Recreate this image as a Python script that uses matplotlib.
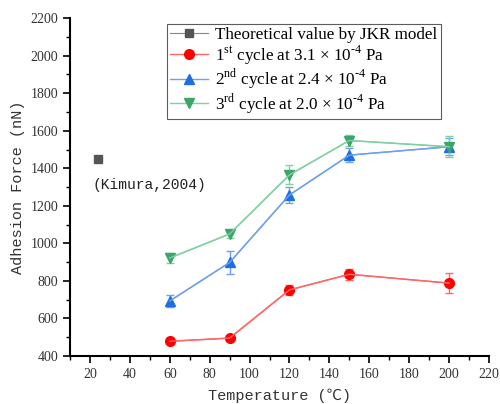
import matplotlib
matplotlib.use('Agg')
import matplotlib.pyplot as plt
from matplotlib.ticker import MultipleLocator

plt.rcParams['mathtext.fontset'] = 'custom'
plt.rcParams['mathtext.rm'] = 'Liberation Serif'

#--------------------------------DATA--------------------
temps = [60, 90, 120, 150, 200]
jkr_x = [24]
jkr_y = [1450]
cycle1 = [478, 495, 752, 835, 788]
cycle1_err = [10, 12, 25, 28, 55]
cycle2 = [693, 898, 1258, 1470, 1515]
cycle2_err = [30, 60, 42, 38, 45]
cycle3 = [922, 1050, 1365, 1548, 1515]
cycle3_err = [25, 20, 50, 30, 55]

labels = ['Theoretical value by JKR model',
          '1$^{\\rm st}$ cycle at 3.1 × 10$^{\\text{-4}}$ Pa',
          '2$^{\\rm nd}$ cycle at 2.4 × 10$^{\\text{-4}}$ Pa',
          '3$^{\\rm rd}$ cycle at 2.0 × 10$^{\\text{-4}}$ Pa']

#--------------------------------PLOT--------------------
fig = plt.figure(figsize=(5, 4.04), dpi=100)
ax = fig.add_axes([0.14, 0.119, 0.838, 0.836])

h0, = ax.plot(jkr_x, jkr_y, 's', color='#555555', ms=6, ls='-', lw=0.8)
ax.errorbar(temps, cycle1, yerr=cycle1_err, color='#ff6666', ecolor='#ff6666',
            lw=1, capsize=3, elinewidth=1, zorder=2)
h1, = ax.plot(temps, cycle1, 'o-', color='#ff6666', mfc='#ff0000', mec='#ff0000', ms=7, lw=1)
ax.errorbar(temps, cycle2, yerr=cycle2_err, color='#6fa0ee', ecolor='#6fa0ee',
            lw=1, capsize=3, elinewidth=1, zorder=2)
h2, = ax.plot(temps, cycle2, '^-', color='#6fa0ee', mfc='#1f6fe0', mec='#1f6fe0', ms=7.5, lw=1)
ax.errorbar(temps, cycle3, yerr=cycle3_err, color='#80d0a0', ecolor='#80d0a0',
            lw=1, capsize=3, elinewidth=1, zorder=2)
h3, = ax.plot(temps, cycle3, 'v-', color='#80d0a0', mfc='#3aa66a', mec='#3aa66a', ms=7.5, lw=1)

ax.text(21.5, 1310, '(Kimura,2004)', family=['Liberation Mono', 'DejaVu Sans'],
        fontsize=10.5, va='center', color='#222222')

ax.set_xlim(10, 220)
ax.set_ylim(400, 2200)
ax.xaxis.set_major_locator(MultipleLocator(20))
ax.xaxis.set_minor_locator(MultipleLocator(10))
ax.set_xticks(range(20, 221, 20))
ax.yaxis.set_major_locator(MultipleLocator(200))
ax.yaxis.set_minor_locator(MultipleLocator(100))
ax.spines['top'].set_visible(False)
ax.spines['right'].set_visible(False)
ax.spines['left'].set_linewidth(1.5)
ax.spines['bottom'].set_linewidth(1.5)
ax.tick_params(which='major', length=5, width=1.2, labelsize=10)
ax.tick_params(which='minor', length=3, width=1)
for t in ax.get_xticklabels() + ax.get_yticklabels():
    t.set_family('Liberation Serif')
    t.set_color('#333333')

ax.set_xlabel('Temperature (℃)', family=['Liberation Mono', 'Noto Sans CJK SC'], fontsize=11,
              color='#333333', labelpad=6)
ax.set_ylabel('Adhesion Force (nN)', family=['Liberation Mono', 'DejaVu Sans'], fontsize=11, color='#333333')

leg = ax.legend([h0, h1, h2, h3], labels, loc='upper left', bbox_to_anchor=(167/500, 1-24/404),
                bbox_transform=fig.transFigure, prop={'family': 'Liberation Serif', 'size': 12.3},
                fancybox=False, edgecolor='#333333', handlelength=2.2, handletextpad=0.4,
                borderpad=0.2, labelspacing=0.0, borderaxespad=0)
leg.get_frame().set_linewidth(0.8)
leg.get_lines()[0].set_color('#888888')
leg.get_lines()[0].set_markerfacecolor('#555555')
leg.get_lines()[0].set_markeredgecolor('#555555')

plt.savefig('out.png', dpi=100)
